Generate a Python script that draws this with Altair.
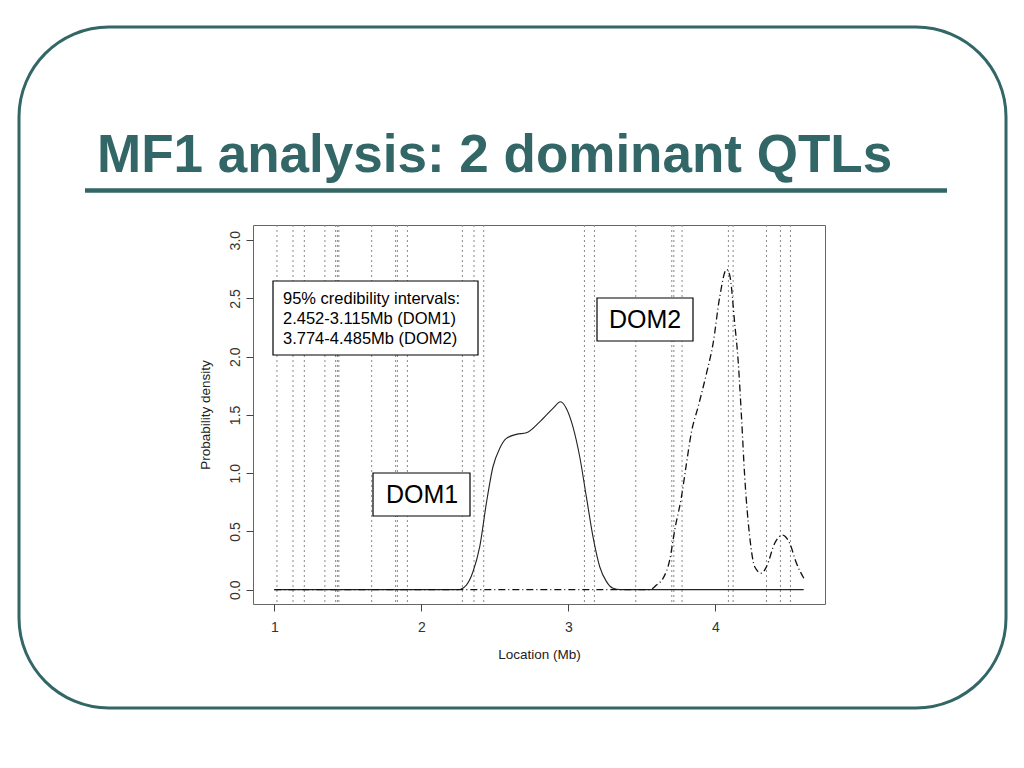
import altair as alt
import pandas as pd

# ---- data ----
marker_pos = [1.018, 1.127, 1.204, 1.344, 1.417, 1.429, 1.439, 1.662, 1.825, 1.837,
              1.905, 2.279, 2.358, 2.424, 3.109, 3.177, 3.458, 3.703, 3.717, 3.773,
              4.088, 4.120, 4.347, 4.442, 4.510]

dom1_x = [1.0, 2.20, 2.249, 2.306, 2.351, 2.397, 2.442, 2.487, 2.533, 2.578, 2.646,
          2.714, 2.805, 2.895, 2.946, 2.986, 3.031, 3.077, 3.122, 3.167, 3.213,
          3.259, 3.304, 3.35, 4.6]
dom1_y = [0, 0, 0, 0.04, 0.154, 0.369, 0.741, 1.055, 1.213, 1.298, 1.333,
          1.347, 1.441, 1.556, 1.613, 1.556, 1.398, 1.141, 0.798, 0.455, 0.197,
          0.069, 0.012, 0, 0]

dom2_x = [1.0, 3.50, 3.553, 3.599, 3.644, 3.689, 3.723, 3.769, 3.803, 3.837, 3.882,
          3.939, 3.984, 4.029, 4.075, 4.097, 4.131, 4.154, 4.177, 4.199, 4.233,
          4.267, 4.313, 4.347, 4.403, 4.456, 4.505, 4.551, 4.601]
dom2_y = [0, 0, 0, 0.04, 0.098, 0.255, 0.512, 0.798, 1.084, 1.355, 1.569,
          1.856, 2.113, 2.513, 2.748, 2.699, 2.285, 1.970, 1.484, 0.969, 0.455,
          0.197, 0.141, 0.197, 0.398, 0.469, 0.398, 0.226, 0.098]

x_ticks = [1, 2, 3, 4]
y_ticks = [0.0, 0.5, 1.0, 1.5, 2.0, 2.5, 3.0]

slide_title = "MF1 analysis: 2 dominant QTLs"
ci_lines = ["95% credibility intervals:", "2.452-3.115Mb (DOM1)", "3.774-4.485Mb (DOM2)"]
x_title = "Location (Mb)"
y_title = "Probability density"

# ---- layout ----
W, H = 572, 379
TEAL = "#336666"
FONT = "Liberation Sans"

x_scale = alt.Scale(domain=[0.855, 4.745], nice=False, zero=False)
y_scale = alt.Scale(domain=[-0.123, 3.13], nice=False, zero=False)

d1 = pd.DataFrame({"x": dom1_x, "y": dom1_y})
d2 = pd.DataFrame({"x": dom2_x, "y": dom2_y})
dm = pd.DataFrame({"x": marker_pos})
one = pd.DataFrame({"k": [0]})

x_axis = alt.Axis(values=x_ticks, format="d", title=x_title, domain=False,
                  tickSize=7, tickColor="#444", labelPadding=9, titlePadding=13,
                  grid=False)
y_axis = alt.Axis(values=y_ticks, format=".1f", title=y_title, domain=False,
                  tickSize=7, tickColor="#444", labelAngle=270, labelAlign="center",
                  labelBaseline="bottom", labelPadding=4, titlePadding=16, grid=False)

X = alt.X("x:Q", scale=x_scale, axis=x_axis)
Y = alt.Y("y:Q", scale=y_scale, axis=y_axis)

markers = alt.Chart(dm).mark_rule(color="#8a8a8a", strokeWidth=1, strokeDash=[2, 3]).encode(x=X)

line1 = alt.Chart(d1).mark_line(color="#222", strokeWidth=1.1, interpolate="monotone").encode(x=X, y=Y)
line2 = alt.Chart(d2).mark_line(color="#111", strokeWidth=1.3, strokeDash=[7, 3, 1, 3],
                                interpolate="monotone").encode(x=X, y=Y)

def box(x0, x1, y0, y1, width=1.2, color="black", radius=0):
    kw = dict(filled=False, stroke=color, strokeWidth=width, clip=False)
    if radius:
        kw["cornerRadius"] = radius
    return alt.Chart(one).mark_rect(**kw).encode(
        x=alt.value(x0), x2=alt.value(x1), y=alt.value(y0), y2=alt.value(y1))

def whitebox(x0, x1, y0, y1):
    return alt.Chart(one).mark_rect(fill="white", stroke="black", strokeWidth=1.2, clip=False).encode(
        x=alt.value(x0), x2=alt.value(x1), y=alt.value(y0), y2=alt.value(y1))

def label(txt, x, y, size, align="left", baseline="middle", color="black", weight="normal"):
    return alt.Chart(one).mark_text(text=txt, font=FONT, fontSize=size, align=align,
                                    baseline=baseline, color=color, fontWeight=weight,
                                    clip=False).encode(x=alt.value(x), y=alt.value(y))

border = box(-234, 753, -198, 483, width=3, color=TEAL, radius=90)
title = label(slide_title, -156, -53, 53, baseline="alphabetic", color=TEAL, weight="bold")
title_rule = alt.Chart(one).mark_rule(color=TEAL, strokeWidth=4.5, clip=False).encode(
    x=alt.value(-168), x2=alt.value(694), y=alt.value(-34.5))

ci_box = whitebox(20, 225, 56, 130)
ci_texts = [label(t, 30, 74 + 20 * i, 16.5) for i, t in enumerate(ci_lines)]
dom2_box = whitebox(344, 440, 73, 116)
dom2_txt = label("DOM2", 392, 95, 25, align="center")
dom1_box = whitebox(120, 217, 248, 291)
dom1_txt = label("DOM1", 169, 270, 25, align="center")

chart = alt.layer(
    markers, line1, line2, border, title, title_rule,
    ci_box, *ci_texts, dom2_box, dom2_txt, dom1_box, dom1_txt
).properties(
    width=W, height=H,
    padding={"left": 245, "top": 217, "right": 191, "bottom": 156},
    autosize=alt.AutoSizeParams(type="none"),
    background="white",
).configure_view(
    stroke="#666", strokeWidth=1
).configure_axis(
    labelFont=FONT, titleFont=FONT, labelFontSize=14, titleFontSize=13.5,
    labelColor="#333", titleColor="#222", titleFontWeight="normal"
)

chart.save("out.html", embed_options={"renderer": "svg", "actions": False})
